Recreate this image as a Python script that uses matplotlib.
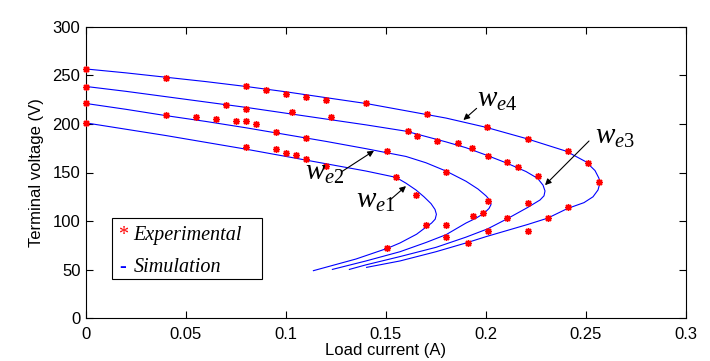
import matplotlib
matplotlib.use("Agg")
import matplotlib.pyplot as plt
from matplotlib.patches import Rectangle

plt.rcParams['font.family'] = ['Liberation Sans', 'DejaVu Sans']
plt.rcParams['mathtext.fontset'] = 'custom'
plt.rcParams['mathtext.it'] = 'Liberation Serif:italic'
plt.rcParams['mathtext.rm'] = 'Liberation Serif'

# simulation curves (load current A, terminal voltage V)
sim1_i = [0, 0.02, 0.04, 0.06, 0.08, 0.10, 0.12, 0.14, 0.155, 0.16, 0.165, 0.169,
          0.1725, 0.1745, 0.1752, 0.1746, 0.1728, 0.1695, 0.1653, 0.157, 0.1507, 0.135, 0.1137]
sim1_v = [201, 194.5, 188, 181, 174, 166.5, 159, 151.5, 145, 139, 132, 125,
          118, 112, 107, 102, 98, 93, 86.5, 77.5, 72, 61, 49]

sim2_i = [0, 0.02, 0.04, 0.06, 0.08, 0.10, 0.12, 0.14, 0.16, 0.17, 0.18, 0.19, 0.196,
          0.2, 0.2022, 0.2025, 0.2015, 0.199, 0.195, 0.19, 0.18, 0.17, 0.157, 0.14, 0.1232]
sim2_v = [221, 215, 208.5, 202.5, 196, 189, 182, 174.5, 166.5, 160, 151.5, 141, 133,
          126, 121, 117, 113, 108, 103, 98, 86, 78, 68.5, 59, 50.3]

sim3_i = [0, 0.02, 0.04, 0.06, 0.08, 0.10, 0.12, 0.14, 0.16, 0.17, 0.18, 0.19, 0.20,
          0.21, 0.22, 0.2258, 0.2285, 0.2295, 0.229, 0.227, 0.2208, 0.2107, 0.2008,
          0.19, 0.175, 0.157, 0.14, 0.1317]
sim3_v = [238.5, 233.5, 228, 222.5, 217, 211, 205, 199, 192.5, 187, 181.5, 175.5, 168,
          160, 151, 144, 137, 131, 126, 121.7, 114, 102.5, 92,
          83.5, 73, 63.5, 55, 50.3]

sim4_i = [0, 0.02, 0.04, 0.06, 0.08, 0.10, 0.12, 0.14, 0.16, 0.18, 0.20, 0.22, 0.24,
          0.25, 0.2545, 0.2565, 0.2568, 0.256, 0.2535, 0.249, 0.2408, 0.2308, 0.2208,
          0.2, 0.1908, 0.175, 0.157, 0.1403]
sim4_v = [256.5, 252.5, 248, 243.5, 238.5, 233, 227, 221, 213.5, 206, 196.5, 185, 172,
          161, 152, 144, 138, 132, 125, 119, 113, 103, 96.5,
          84, 78, 68.5, 59, 52.4]

# experimental points
exp1_i = [0, 0.08, 0.095, 0.1, 0.105, 0.11, 0.12, 0.155, 0.165, 0.17, 0.1507]
exp1_v = [201.2, 176.6, 174, 170, 167.7, 164.3, 157, 145.6, 126.8, 96, 72]

exp2_i = [0, 0.04, 0.055, 0.065, 0.075, 0.08, 0.085, 0.095, 0.11, 0.1507, 0.18,
          0.2008, 0.1983, 0.1933, 0.18, 0.18]
exp2_v = [221.8, 209, 207, 205, 203.4, 202.8, 200, 191.8, 185, 172, 150.2,
          120.7, 108, 105.2, 96, 84]

exp3_i = [0, 0.07, 0.08, 0.103, 0.1223, 0.161, 0.1653, 0.1757, 0.1858, 0.1928,
          0.2008, 0.2107, 0.2158, 0.2258, 0.2208, 0.2107, 0.2008]
exp3_v = [238.2, 219, 215, 212.7, 207, 192.6, 187.5, 182.7, 180, 174.8,
          167.3, 160.4, 155.3, 146.7, 118.9, 103.5, 89.8]

exp4_i = [0, 0.04, 0.08, 0.09, 0.1, 0.11, 0.12, 0.14, 0.1703, 0.2007, 0.2208, 0.241,
          0.2508, 0.2565, 0.241, 0.2308, 0.2208, 0.1908]
exp4_v = [256.4, 247.7, 239, 235, 231, 228, 224.7, 222, 209.8, 196.5, 184.4, 172.4,
          159.4, 139.9, 115, 102.8, 90.1, 77.8]

xticks = [0, 0.05, 0.1, 0.15, 0.2, 0.25, 0.3]
xtick_labels = ['0', '0.05', '0.1', '0.15', '0.2', '0.25', '0.3']
yticks = [0, 50, 100, 150, 200, 250, 300]

fig = plt.figure(figsize=(7.1, 3.61), dpi=100)
ax = fig.add_axes([86 / 710, 42.7 / 361, 600 / 710, 291.6 / 361])

for si, sv in [(sim1_i, sim1_v), (sim2_i, sim2_v), (sim3_i, sim3_v), (sim4_i, sim4_v)]:
    ax.plot(si, sv, color='#0000ff', lw=0.8)

for ei, ev in [(exp1_i, exp1_v), (exp2_i, exp2_v), (exp3_i, exp3_v), (exp4_i, exp4_v)]:
    ax.plot(ei, ev, ls='none', marker=(8, 2, 0), ms=5, mew=1.0, color='#ff0000',
            clip_on=False, zorder=3)

ax.set_xlim(0, 0.3)
ax.set_ylim(0, 300)
ax.set_xticks(xticks)
ax.set_xticklabels(xtick_labels)
ax.set_yticks(yticks)
ax.tick_params(direction='in', top=True, right=True, length=5, width=0.8,
               labelsize=12)
ax.tick_params(axis='x', pad=6)
ax.tick_params(axis='y', pad=4)
for sp in ax.spines.values():
    sp.set_linewidth(0.8)

ax.set_xlabel('Load current (A)', fontsize=12, labelpad=1)
ax.set_ylabel('Terminal voltage (V)', fontsize=12, labelpad=6)

# curve labels with arrows
arrow = dict(arrowstyle='-|>', color='k', lw=0.8, mutation_scale=9, shrinkA=0, shrinkB=0)
labels = [(r'$w_{\mathit{e1}}$', (0.135, 114), (0.152, 121.7), (0.16, 136)),
          (r'$w_{\mathit{e2}}$', (0.1095, 142), (0.1278, 150.8), (0.144, 172.4)),
          (r'$w_{\mathit{e3}}$', (0.2545, 180), (0.2515, 182.4), (0.2295, 137)),
          (r'$w_{\mathit{e4}}$', (0.1953, 217.6), (0.1953, 216), (0.1887, 204))]
for txt, tpos, tail, head in labels:
    ax.text(tpos[0], tpos[1], txt, fontsize=21, ha='left', va='baseline')
    ax.annotate('', xy=head, xytext=tail, arrowprops=arrow)

# legend box
ax.add_patch(Rectangle((0.0438, 0.135), 0.249, 0.208, transform=ax.transAxes,
                       fill=False, edgecolor='k', lw=0.8, zorder=4))
serif = dict(family='Liberation Serif', style='italic', fontsize=14.5)
ax.text(0.053, 0.270, '*', color='#ff0000', transform=ax.transAxes,
        family='Liberation Serif', fontsize=14.5, va='baseline')
ax.text(0.0788, 0.270, 'Experimental', transform=ax.transAxes, va='baseline', **serif)
ax.text(0.055, 0.160, '-', color='#0000ff', transform=ax.transAxes,
        family='Liberation Serif', fontsize=14.5, fontweight='bold', va='baseline')
ax.text(0.0788, 0.160, 'Simulation', transform=ax.transAxes, va='baseline', **serif)

fig.savefig('out.png', dpi=100)
